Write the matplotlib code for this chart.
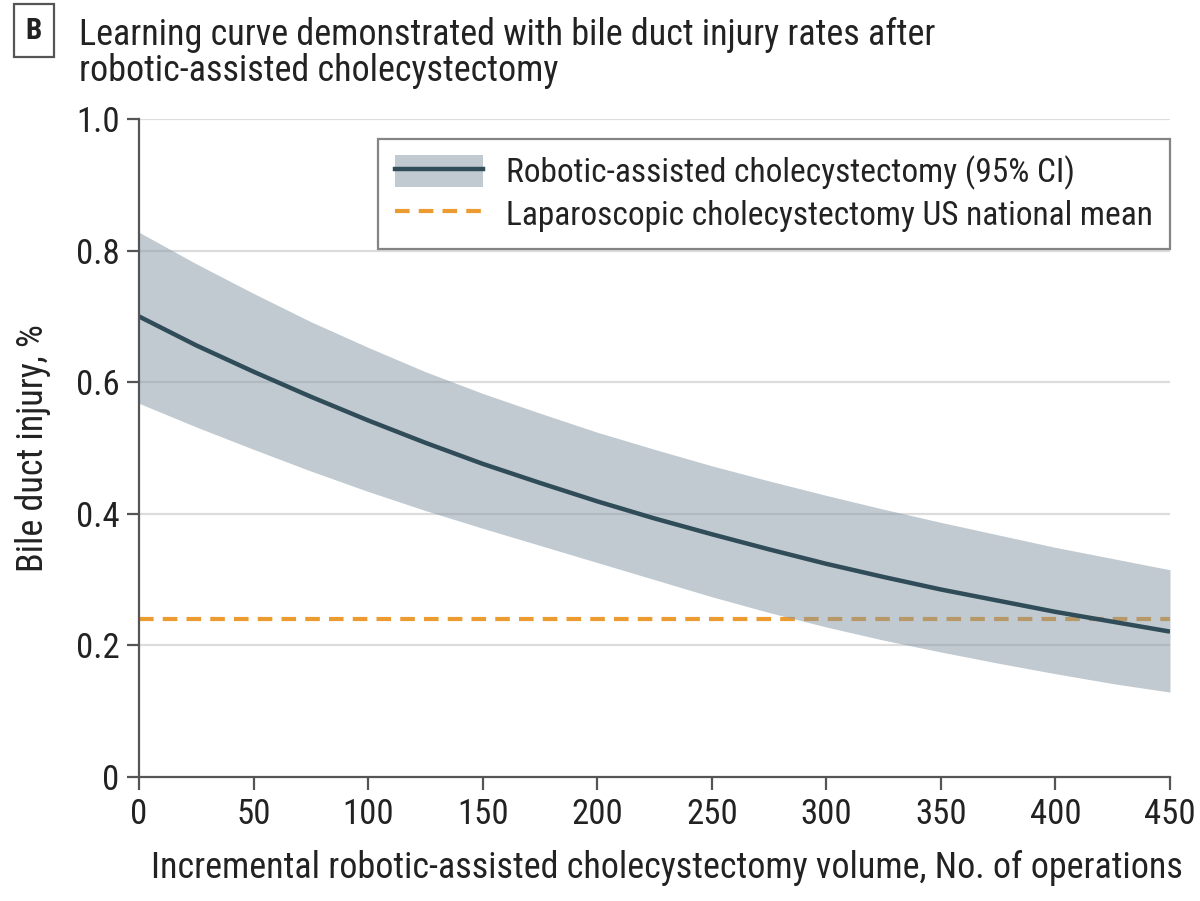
import matplotlib
matplotlib.use("Agg")
import matplotlib.pyplot as plt
from matplotlib.patches import Patch
from matplotlib.lines import Line2D

plt.rcParams['font.family'] = ['Roboto Condensed', 'Roboto', 'DejaVu Sans']

# operations volume and bile duct injury (%)
volume = [0, 25, 50, 75, 100, 125, 150, 175, 200, 225, 250, 275, 300, 325, 350, 375, 400, 425, 450]
rate = [0.700, 0.656, 0.616, 0.578, 0.542, 0.508, 0.476, 0.447, 0.419, 0.393, 0.369,
        0.346, 0.324, 0.304, 0.285, 0.268, 0.251, 0.236, 0.221]
ci_upper = [0.828, 0.780, 0.735, 0.692, 0.653, 0.616, 0.583, 0.553, 0.524, 0.498, 0.473,
            0.450, 0.428, 0.407, 0.387, 0.368, 0.349, 0.332, 0.315]
ci_lower = [0.568, 0.532, 0.498, 0.465, 0.434, 0.405, 0.378, 0.352, 0.326, 0.300, 0.274,
            0.250, 0.228, 0.208, 0.190, 0.173, 0.157, 0.142, 0.129]
lap_mean = 0.24

xticks = [0, 50, 100, 150, 200, 250, 300, 350, 400, 450]
yticks = [0, 0.2, 0.4, 0.6, 0.8, 1.0]
ytick_labels = ['0', '0.2', '0.4', '0.6', '0.8', '1.0']

band_col = '#8597a3'
line_col = '#2f4c58'
lap_col = '#eb9b2f'
axis_col = '#555555'
text_col = '#222222'

fig = plt.figure(figsize=(12, 9.01), dpi=100)
ax = fig.add_axes([0.1158, 0.1376, 0.8592, 0.7303])

for yv in yticks[1:]:
    ax.axhline(yv, color='#dcdcdc', lw=1.6, zorder=1)

ax.axhline(lap_mean, color=lap_col, lw=3, ls=(0, (3.5, 2.2)), zorder=2)
ax.fill_between(volume, ci_lower, ci_upper, color=band_col, alpha=0.5, lw=0, zorder=3)
ax.plot(volume, rate, color=line_col, lw=3.2, zorder=4, solid_capstyle='butt')

ax.set_xlim(0, 450)
ax.set_ylim(0, 1.0)
ax.set_xticks(xticks)
ax.set_yticks(yticks)
ax.set_yticklabels(ytick_labels)
for side in ['top', 'right']:
    ax.spines[side].set_visible(False)
for side in ['left', 'bottom']:
    ax.spines[side].set_color(axis_col)
    ax.spines[side].set_linewidth(1.6)
    ax.spines[side].set_zorder(5)
ax.tick_params(colors=axis_col, width=1.6, length=9, labelsize=25, labelcolor=text_col)
ax.tick_params(axis='x', pad=6)
ax.tick_params(axis='y', pad=5)

ax.set_xlabel('Incremental robotic-assisted cholecystectomy volume, No. of operations',
              fontsize=26, color=text_col, labelpad=14)
ax.xaxis.label.set_x(0.512)
ax.set_ylabel('Bile duct injury, %', fontsize=26, color=text_col, labelpad=18)

h1 = (Patch(facecolor=band_col, alpha=0.5, lw=0), Line2D([], [], color=line_col, lw=3.2))
h2 = Line2D([], [], color=lap_col, lw=3, ls=(0, (3.5, 2.2)))
leg = ax.legend([h1, h2], ['Robotic-assisted cholecystectomy (95% CI)',
                           'Laparoscopic cholecystectomy US national mean'],
                loc='upper right', bbox_to_anchor=(1.0, 0.97), fontsize=24,
                frameon=True, fancybox=False, edgecolor='#666666',
                handlelength=2.65, handleheight=1.1, handletextpad=0.7,
                borderpad=0.5, labelspacing=0.22, borderaxespad=0)
leg.get_frame().set_linewidth(1.6)
for t in leg.get_texts():
    t.set_color(text_col)

fig.text(0.0283, 0.966, 'B', fontsize=21, fontweight='bold', color=text_col,
         ha='center', va='center',
         bbox=dict(boxstyle='square,pad=0.42', facecolor='white', edgecolor='#555555', lw=1.6))
fig.text(0.066, 0.981, 'Learning curve demonstrated with bile duct injury rates after\n'
         'robotic-assisted cholecystectomy', fontsize=26, color=text_col,
         ha='left', va='top', linespacing=1.0)

fig.savefig('out.png', dpi=100)
